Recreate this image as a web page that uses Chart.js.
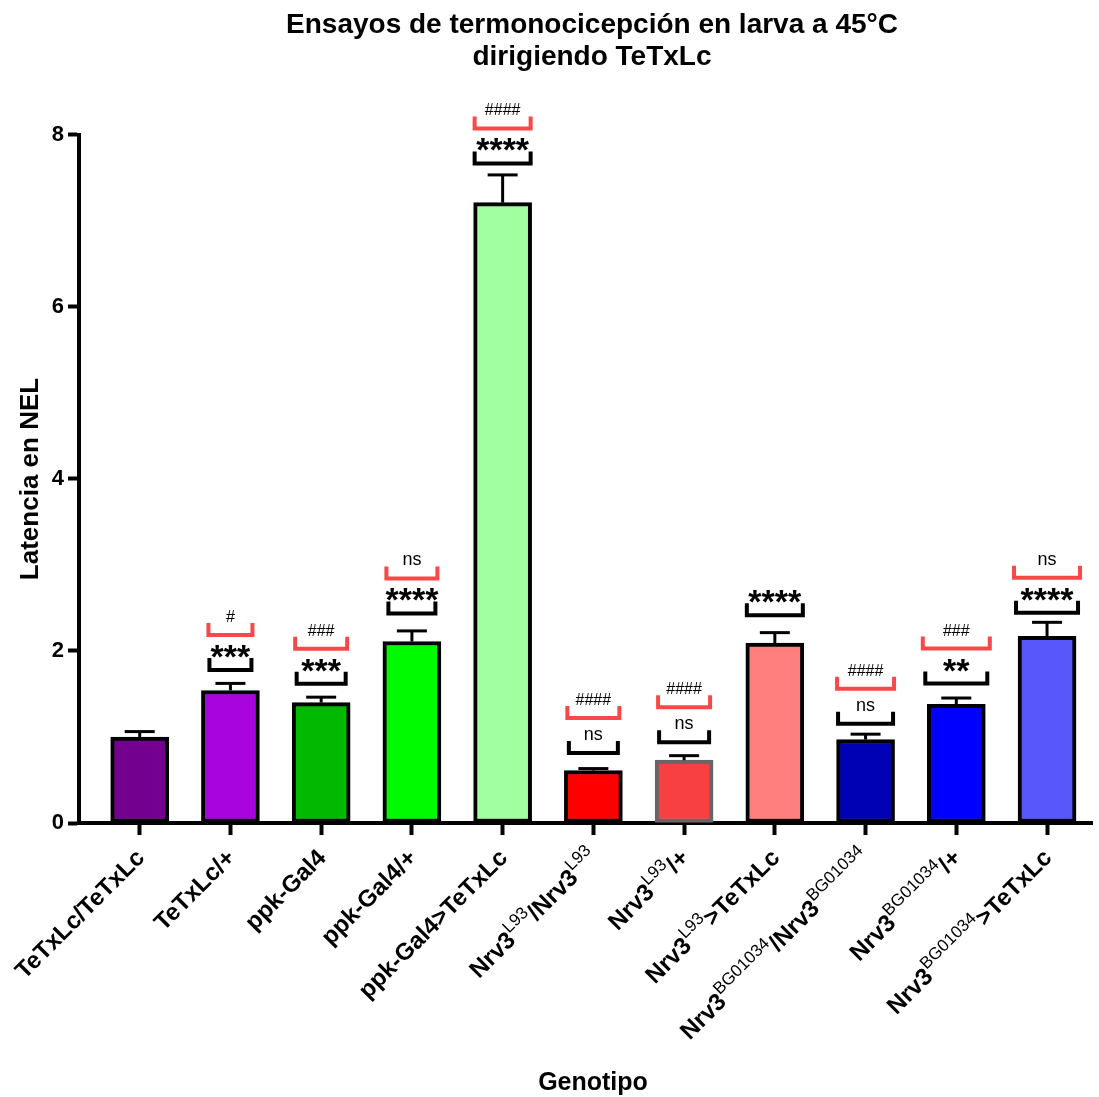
<!DOCTYPE html>
<html>
<head>
<meta charset="utf-8">
<script src="https://cdn.jsdelivr.net/npm/chart.js@4.4.1/dist/chart.umd.min.js"></script>
<style>
  html, body { margin: 0; padding: 0; background: #ffffff; }
  canvas { display: block; }
</style>
</head>
<body>
<canvas id="chart" width="1099" height="1097"></canvas>
<script>
// Genotypes on the x axis; "^{...}" marks a superscript allele name
const genotypes = [
  'TeTxLc/TeTxLc',
  'TeTxLc/+',
  'ppk-Gal4',
  'ppk-Gal4/+',
  'ppk-Gal4>TeTxLc',
  'Nrv3^{L93}/Nrv3^{L93}',
  'Nrv3^{L93}/+',
  'Nrv3^{L93}>TeTxLc',
  'Nrv3^{BG01034}/Nrv3^{BG01034}',
  'Nrv3^{BG01034}/+',
  'Nrv3^{BG01034}>TeTxLc'
];

// Mean NEL latency and its SEM for each genotype
const latencyMean = [1.00, 1.54, 1.40, 2.11, 7.21, 0.61, 0.73, 2.09, 0.97, 1.38, 2.17];
const latencySem  = [0.08, 0.10, 0.08, 0.14, 0.34, 0.04, 0.07, 0.14, 0.08, 0.09, 0.18];

// Significance marks: vs. TeTxLc/TeTxLc (black) and vs. ppk-Gal4>TeTxLc (red)
const sigVsControl      = ['', '***', '***', '****', '****', 'ns', 'ns', '****', 'ns', '**', '****'];
const sigVsExperimental = ['', '#', '###', 'ns', '####', '####', '####', '', '####', '###', 'ns'];

const yTicks = [0, 2, 4, 6, 8];

// ---- styling ----
const FONT = '"Liberation Sans", Arial, Helvetica, sans-serif';
const barFill = ['#74008f', '#a805de', '#00b900', '#00fb00', '#a2ffa0', '#ff0000',
                 '#f83f42', '#ff7f7f', '#0000b5', '#0000ff', '#5757fb'];
const barEdge = ['#000', '#000', '#000', '#000', '#000', '#000',
                 '#666666', '#000', '#000', '#000', '#000'];
const blackBracketW = [0, 46, 53, 51, 60, 53, 54, 60, 59, 66, 66];
const redBracketW   = [0, 48, 56, 55, 60, 56, 56, 0, 61, 71, 70];
const bracketGap    = [0, 10, 10, 14, 8, 12, 10, 14, 7, 11, 6];
const RED = '#f94848';

function parseRich(s) {
  const parts = [];
  const re = /\^\{([^}]*)\}/g;
  let last = 0, m;
  while ((m = re.exec(s))) {
    if (m.index > last) parts.push({ t: s.slice(last, m.index), sup: false });
    parts.push({ t: m[1], sup: true });
    last = re.lastIndex;
  }
  if (last < s.length) parts.push({ t: s.slice(last), sup: false });
  return parts;
}

function drawBracket(ctx, cx, bottom, w, color) {
  const lw = 4, arm = 14;
  ctx.strokeStyle = color;
  ctx.lineWidth = lw;
  ctx.lineJoin = 'miter';
  ctx.lineCap = 'butt';
  const l = cx - w / 2 + lw / 2, r = cx + w / 2 - lw / 2;
  const b = bottom - lw / 2, t = bottom - arm;
  ctx.beginPath();
  ctx.moveTo(l, t); ctx.lineTo(l, b); ctx.lineTo(r, b); ctx.lineTo(r, t);
  ctx.stroke();
  return t;
}

function drawMark(ctx, text, cx, armTop) {
  ctx.fillStyle = '#000';
  if (text.startsWith('*')) {
    ctx.font = 'bold 34px ' + FONT;
    ctx.textAlign = 'left';
    ctx.textBaseline = 'alphabetic';
    const m = ctx.measureText('*');
    const adv = m.width;
    const x0 = cx - adv * text.length / 2;
    const base = armTop - m.actualBoundingBoxDescent;
    for (let k = 0; k < text.length; k++) ctx.fillText('*', x0 + adv * k, base);
  } else {
    ctx.font = (text === 'ns' ? '18px ' : '16px ') + FONT;
    ctx.textAlign = 'center';
    ctx.textBaseline = 'alphabetic';
    const m = ctx.measureText(text);
    ctx.fillText(text, cx, armTop - 1 - m.actualBoundingBoxDescent);
  }
}

const annotations = {
  id: 'annotations',
  afterDatasetsDraw(chart) {
    const { ctx, scales: { x, y } } = chart;
    ctx.save();
    latencyMean.forEach((mean, i) => {
      const cx = x.getPixelForValue(i);
      const top = y.getPixelForValue(mean);
      const cap = y.getPixelForValue(mean + latencySem[i]);
      // SEM error bar (upper half only)
      ctx.strokeStyle = '#000';
      ctx.lineCap = 'butt';
      ctx.lineWidth = 3;
      ctx.beginPath(); ctx.moveTo(cx, top); ctx.lineTo(cx, cap + 1.5); ctx.stroke();
      ctx.beginPath(); ctx.moveTo(cx - 15, cap + 1.5); ctx.lineTo(cx + 15, cap + 1.5); ctx.stroke();

      if (sigVsControl[i]) {
        const bottom = cap - bracketGap[i];
        const armTop = drawBracket(ctx, cx, bottom, blackBracketW[i], '#000');
        drawMark(ctx, sigVsControl[i], cx, armTop);
        if (sigVsExperimental[i]) {
          const redTop = drawBracket(ctx, cx, bottom - 35, redBracketW[i], RED);
          drawMark(ctx, sigVsExperimental[i], cx, redTop);
        }
      }
    });
    ctx.restore();
  },
  afterDraw(chart) {
    const { ctx, scales: { x } } = chart;
    ctx.save();
    ctx.fillStyle = '#000';

    // title
    ctx.font = 'bold 28px ' + FONT;
    ctx.textAlign = 'center';
    ctx.textBaseline = 'alphabetic';
    ctx.fillText('Ensayos de termonocicepción en larva a 45°C', 592, 33);
    ctx.fillText('dirigiendo TeTxLc', 592, 65);

    // axis titles
    ctx.font = 'bold 25px ' + FONT;
    ctx.fillText('Genotipo', 593, 1090);
    ctx.save();
    ctx.translate(38, 479);
    ctx.rotate(-Math.PI / 2);
    ctx.font = 'bold 26px ' + FONT;
    ctx.fillText('Latencia en NEL', 0, 0);
    ctx.restore();

    // rotated genotype labels with superscripts
    genotypes.forEach((g, i) => {
      const parts = parseRich(g);
      const fontOf = p => p.sup ? '17px ' + FONT : 'bold 24px ' + FONT;
      let total = 0;
      parts.forEach(p => { ctx.font = fontOf(p); p.w = ctx.measureText(p.t).width; total += p.w; });
      ctx.save();
      ctx.translate(x.getPixelForValue(i) + 6, 859);
      ctx.rotate(-Math.PI / 4);
      ctx.textAlign = 'left';
      let u = -total;
      parts.forEach(p => {
        ctx.font = fontOf(p);
        ctx.fillText(p.t, u, p.sup ? -11 : 0);
        u += p.w;
      });
      ctx.restore();
    });
    ctx.restore();
  }
};

new Chart(document.getElementById('chart'), {
  type: 'bar',
  data: {
    datasets: [{
      data: latencyMean.map((v, i) => ({ x: i, y: v })),
      backgroundColor: barFill,
      borderColor: barEdge,
      borderWidth: 4,
      borderSkipped: false,
      barThickness: 58
    }]
  },
  options: {
    responsive: false,
    animation: false,
    devicePixelRatio: 1,
    layout: { padding: { top: 134.7, right: 6.6, left: 0, bottom: 0 } },
    plugins: {
      legend: { display: false },
      tooltip: { enabled: false },
      title: { display: false }
    },
    scales: {
      x: {
        type: 'linear',
        offset: false,
        min: -0.669,
        max: 10.5,
        afterBuildTicks: s => { s.ticks = genotypes.map((_, i) => ({ value: i })); },
        afterFit: s => { s.height = 274; },
        ticks: { display: false },
        grid: { offset: false, drawOnChartArea: false, drawTicks: true, tickLength: 12, tickWidth: 4, tickColor: '#000', color: '#000' },
        border: { display: true, color: '#000', width: 4 }
      },
      y: {
        min: 0,
        max: 8,
        afterBuildTicks: s => { s.ticks = yTicks.map(v => ({ value: v })); },
        afterFit: s => { s.width = 79; },
        ticks: { font: { family: FONT, weight: 'bold', size: 22 }, color: '#000', padding: 4 },
        grid: { drawOnChartArea: false, drawTicks: true, tickLength: 11, tickWidth: 4, tickColor: '#000', color: '#000' },
        border: { display: true, color: '#000', width: 4 }
      }
    }
  },
  plugins: [annotations]
});
</script>
</body>
</html>
